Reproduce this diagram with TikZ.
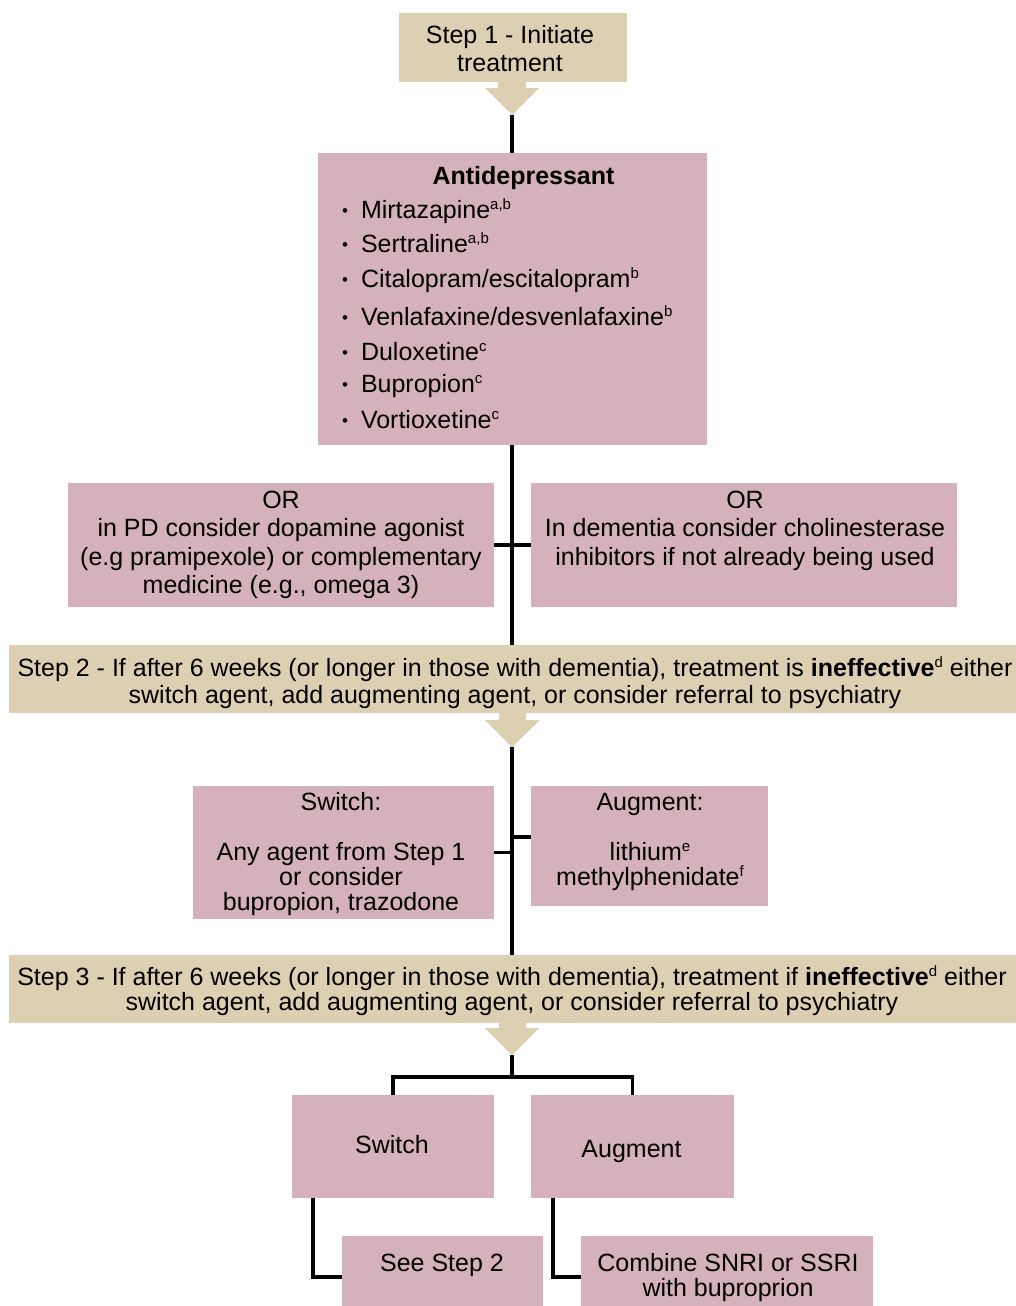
\documentclass[tikz,border=0pt]{standalone}
\usepackage{fontspec}
\setmainfont{Liberation Sans}
\definecolor{tanc}{RGB}{221,208,178}
\definecolor{pinkc}{RGB}{213,177,187}
\newcommand\topstrt{\rule{0pt}{22pt}}
\newcommand\supx[1]{\raisebox{0.33em}{\fontsize{15}{15}\selectfont #1}}
\newcommand\smbul{\raisebox{1.5pt}{\fontsize{17}{17}\selectfont •}}
\begin{document}
\begin{tikzpicture}[x=1pt,y=-1pt,
  box/.style={inner sep=0pt, outer sep=0pt, anchor=north west, draw=none},
  pbox/.style={box, fill=pinkc},
  tbox/.style={box, fill=tanc},
  txt/.style={inner sep=0pt, outer sep=0pt, align=center, font=\fontsize{25}{28}\selectfont},
  conn/.style={line width=3.5pt, black},
  chev/.style={fill=tanc, draw=none}]
\useasboundingbox (0,0) rectangle (1016,1306);
\clip (0,0) rectangle (1016,1306);

% boxes
\node[tbox, minimum width=228, minimum height=69] (step1) at (399,13) {};
\node[pbox, minimum width=389, minimum height=292] (anti) at (318,153) {};
\node[pbox, minimum width=426, minimum height=124] (orL) at (68,483) {};
\node[pbox, minimum width=426, minimum height=124] (orR) at (531,483) {};
\node[tbox, minimum width=1007, minimum height=68] (step2) at (9,645) {};
\node[pbox, minimum width=301, minimum height=133] (sw1) at (193,786) {};
\node[pbox, minimum width=237, minimum height=120] (aug1) at (531,786) {};
\node[tbox, minimum width=1007, minimum height=68] (step3) at (9,955) {};
\node[pbox, minimum width=202, minimum height=103] (sw2) at (292,1095) {};
\node[pbox, minimum width=203, minimum height=103] (aug2) at (531,1095) {};
\node[pbox, minimum width=201, minimum height=82] (see2) at (342,1236) {};
\node[pbox, minimum width=292, minimum height=82] (comb) at (581,1236) {};

% chevrons
\fill[chev] (498,81) -- (498,88) -- (485,88) -- (512,115) -- (539,88) -- (526,88) -- (526,81) -- cycle;
\coordinate (a1tip) at (512,115);
\fill[chev] (499,712) -- (499,720) -- (485,720) -- (512,747) -- (540,720) -- (526,720) -- (526,712) -- cycle;
\coordinate (a2tip) at (512,747);
\fill[chev] (499,1022) -- (499,1028) -- (485,1028) -- (512,1055) -- (539,1028) -- (526,1028) -- (526,1022) -- cycle;
\coordinate (a3tip) at (512,1055);
\coordinate (j3) at (512,1077);

% connectors
\draw[conn] (a1tip) -- (a1tip |- anti.north);
\draw[conn] (anti.south -| a1tip) -- (a1tip |- step2.north);
\draw[conn] (orL.east) -- (orR.west);
\draw[conn] (a2tip) -- (a2tip |- step3.north);
\draw[conn] (sw1.east) -- (sw1.east -| a2tip);
\draw[conn] ([yshift=9pt]aug1.west) -- ([yshift=9pt]aug1.west -| a2tip);
\draw[conn] (a3tip) -- (j3);
\draw[conn] (sw2.north) |- (j3) -| (aug2.north);
\draw[conn] ([xshift=21pt]sw2.south west) |- (see2.west);
\draw[conn] ([xshift=22pt]aug2.south west) |- (comb.west);

% texts
\node[txt, anchor=north] (t1) at (510,21) {\topstrt Step 1 - Initiate\\treatment};
\node[txt, anchor=base] (tanti) at (523.5,184) {\textbf{Antidepressant}};
\foreach \itm/\yy [count=\i] in {{Mirtazapine\supx{a,b}}/218, {Sertraline\supx{a,b}}/252,
  {Citalopram/escitalopram\supx{b}}/287, {Venlafaxine/desvenlafaxine\supx{b}}/325,
  {Duloxetine\supx{c}}/360, {Bupropion\supx{c}}/392, {Vortioxetine\supx{c}}/428}
  \node[txt, anchor=base west] (item\i) at (361,\yy) {\makebox[0pt][r]{\smbul\hspace{13pt}}\itm};
\node[txt, anchor=north, font=\fontsize{25}{28.5}\selectfont] (torL) at (281,486)
  {\topstrt OR\\in PD consider dopamine agonist\\(e.g pramipexole) or complementary\\medicine (e.g., omega 3)};
\node[txt, anchor=north, font=\fontsize{25}{28.5}\selectfont] (torR) at (745,486)
  {\topstrt OR\\In dementia consider cholinesterase\\inhibitors if not already being used};
\node[txt, anchor=north, font=\fontsize{25}{27.5}\selectfont] (tstep2) at (515,654)
  {\topstrt Step 2 - If after 6 weeks (or longer in those with dementia), treatment is \textbf{ineffective}\supx{d} either\\switch agent, add augmenting agent, or consider referral to psychiatry};
\node[txt, anchor=north, font=\fontsize{25}{25}\selectfont] (tsw1) at (341,788)
  {\topstrt Switch:\\[25pt]Any agent from Step 1\\or consider\\bupropion, trazodone};
\node[txt, anchor=north, font=\fontsize{25}{25}\selectfont] (taug1) at (650,788)
  {\topstrt Augment:\\[25pt]lithium\supx{e}\\methylphenidate\supx{f}};
\node[txt, anchor=north, font=\fontsize{25}{25}\selectfont] (tstep3) at (512,963)
  {\topstrt Step 3 - If after 6 weeks (or longer in those with dementia), treatment if \textbf{ineffective}\supx{d} either\\switch agent, add augmenting agent, or consider referral to psychiatry};
\node[txt, anchor=base] (tsw2) at (392,1153) {Switch};
\node[txt, anchor=base] (taug2) at (631.5,1157) {Augment};
\node[txt, anchor=base] (tsee2) at (442,1271) {See Step 2};
\node[txt, anchor=north, font=\fontsize{25}{25}\selectfont] (tcomb) at (728,1249)
  {\topstrt Combine SNRI or SSRI\\with buproprion};
\end{tikzpicture}
\end{document}
